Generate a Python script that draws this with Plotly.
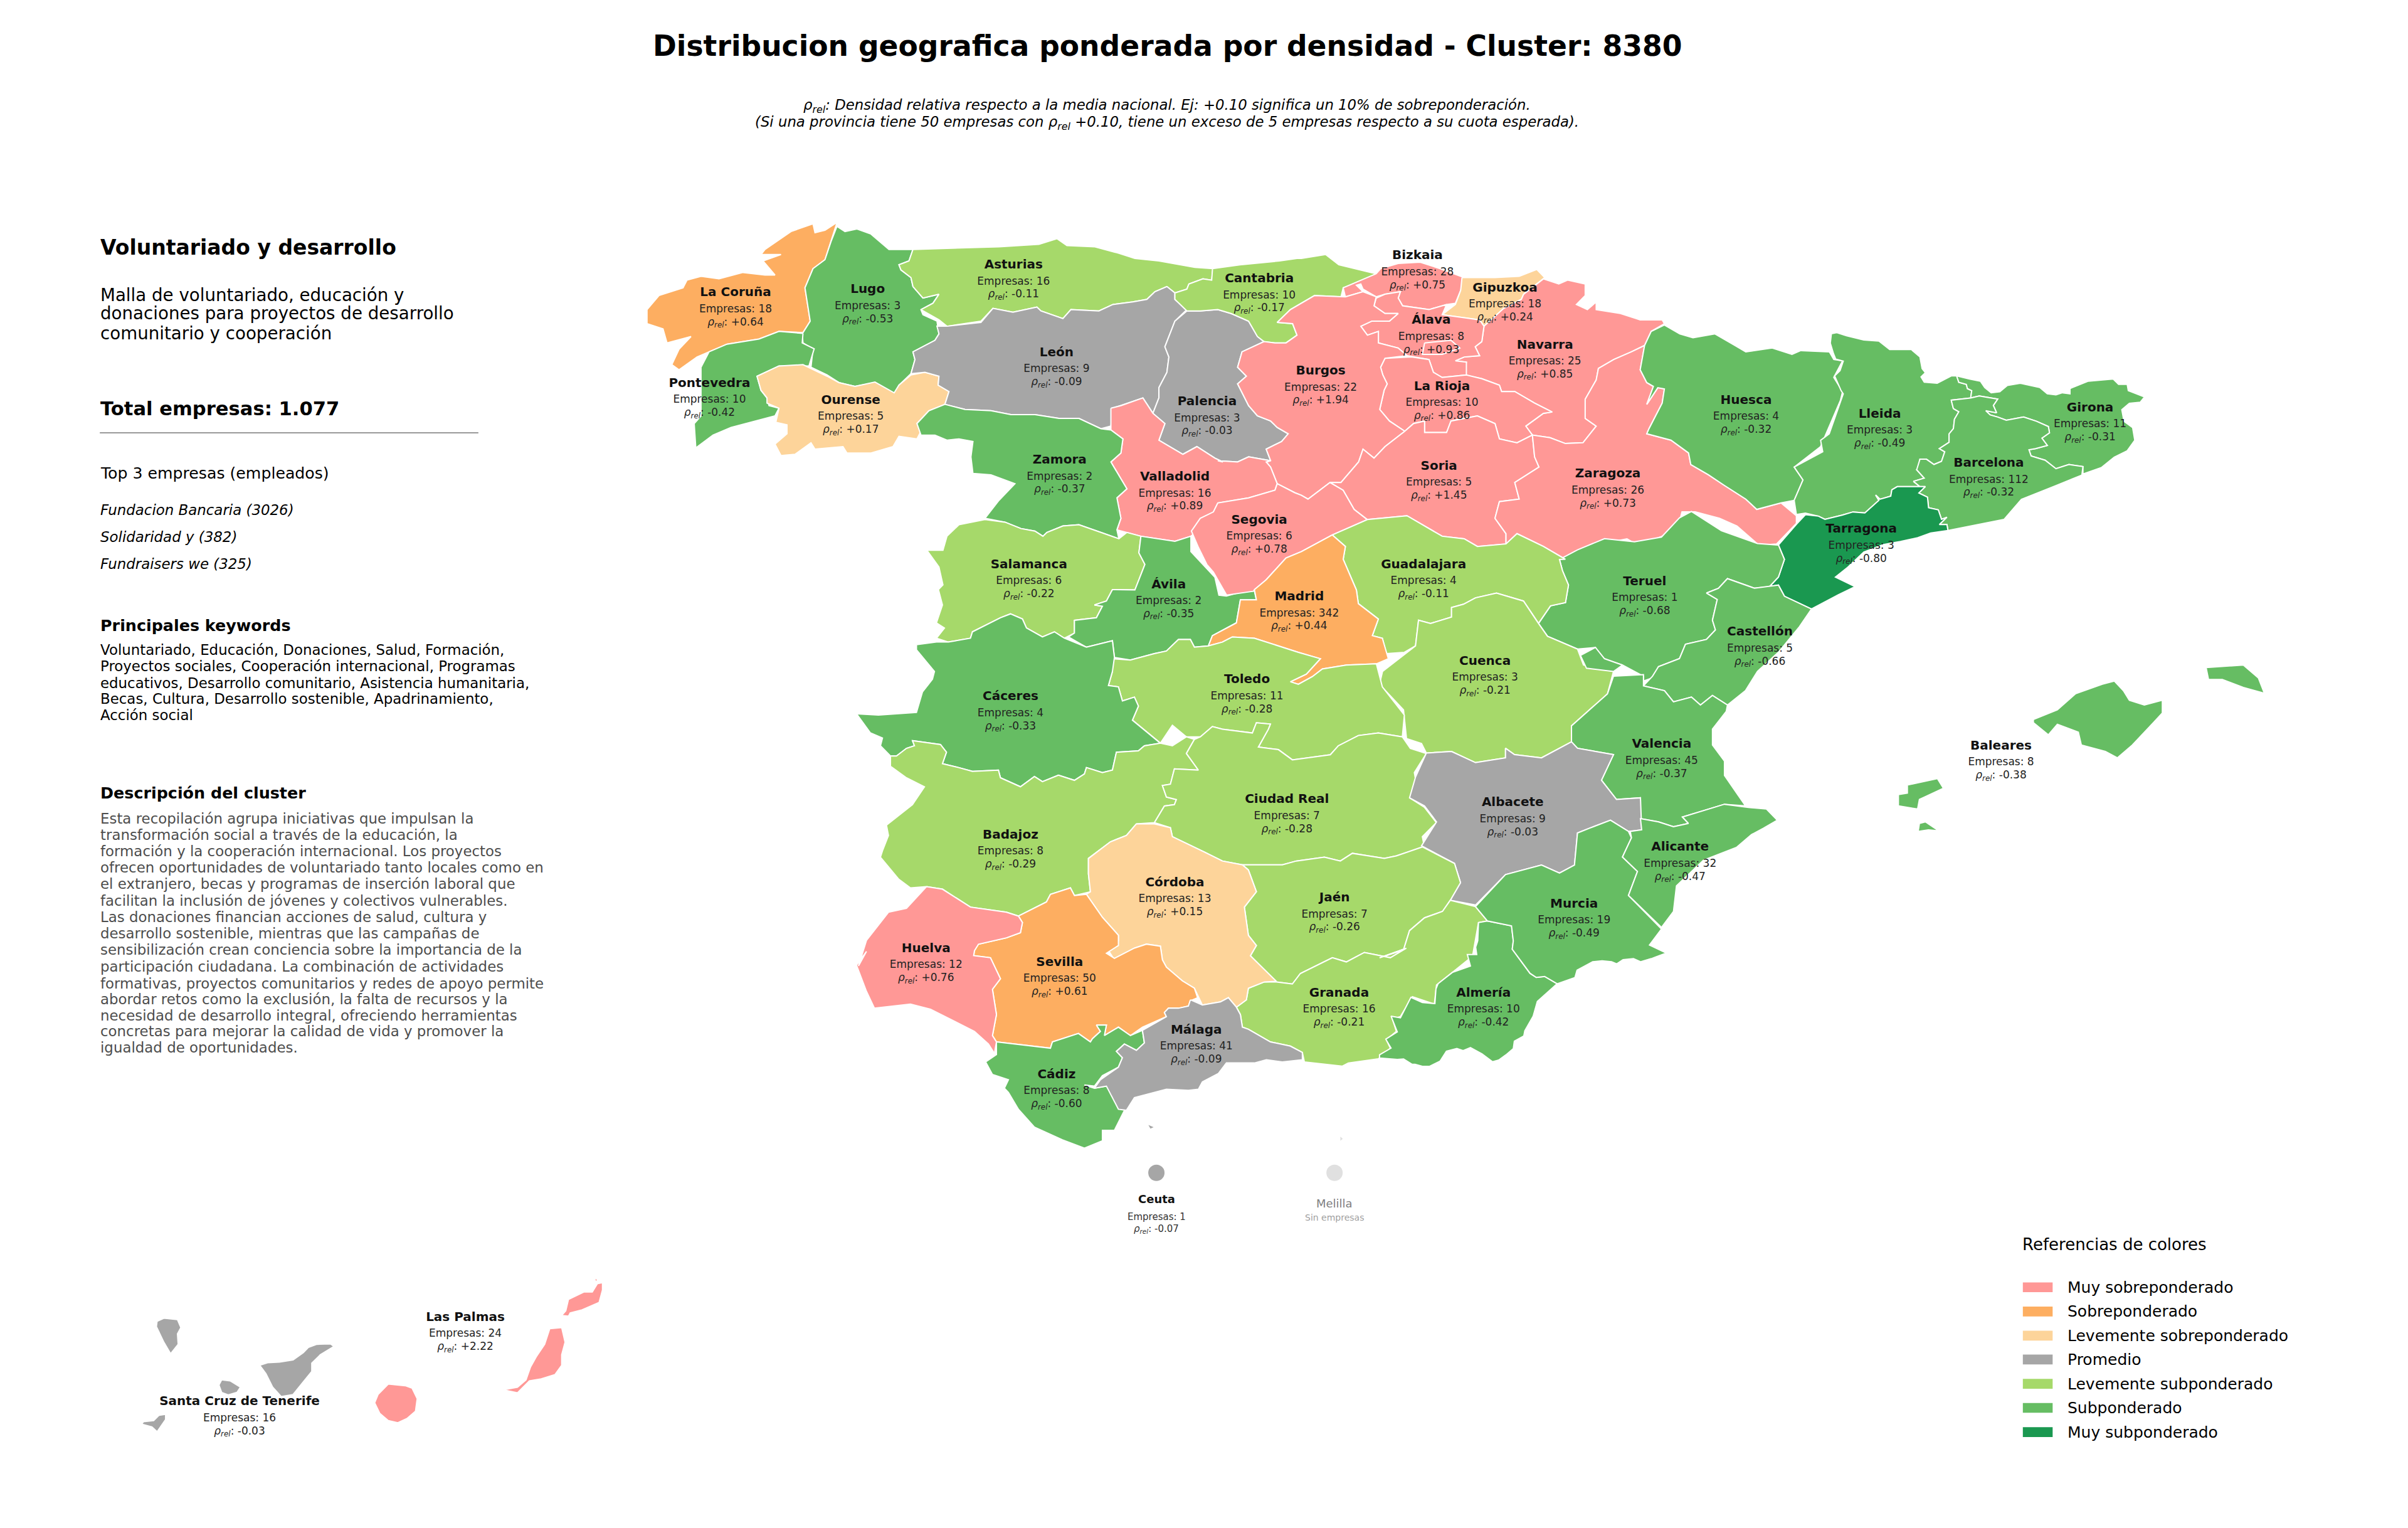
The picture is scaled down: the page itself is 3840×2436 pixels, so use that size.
import plotly.graph_objects as go

names = ["La Coruña", "Lugo", "Pontevedra", "Ourense", "Asturias", "León", "Palencia", "Cantabria",
         "Bizkaia", "Gipuzkoa", "Navarra", "Álava", "La Rioja", "Burgos", "Valladolid", "Zamora",
         "Salamanca", "Ávila", "Segovia", "Soria", "Zaragoza", "Huesca", "Lleida", "Girona",
         "Barcelona", "Tarragona", "Teruel", "Castellón", "Guadalajara", "Madrid", "Cuenca", "Valencia",
         "Toledo", "Cáceres", "Badajoz", "Ciudad Real", "Albacete", "Jaén", "Granada", "Almería",
         "Murcia", "Alicante", "Córdoba", "Sevilla", "Huelva", "Cádiz", "Málaga", "Baleares",
         "Santa Cruz de Tenerife", "Las Palmas"]
empresas = [18, 3, 10, 5, 16, 9, 3, 10,
            28, 18, 25, 8, 10, 22, 16, 2,
            6, 2, 6, 5, 26, 4, 3, 11,
            112, 3, 1, 5, 4, 342, 3, 45,
            11, 4, 8, 7, 9, 7, 16, 10,
            19, 32, 13, 50, 12, 8, 41, 8,
            16, 24]
rho = [0.64, -0.53, -0.42, 0.17, -0.11, -0.09, -0.03, -0.17,
       0.75, 0.24, 0.85, 0.93, 0.86, 1.94, 0.89, -0.37,
       -0.22, -0.35, 0.78, 1.45, 0.73, -0.32, -0.49, -0.31,
       -0.32, -0.80, -0.68, -0.66, -0.11, 0.44, -0.21, -0.37,
       -0.28, -0.33, -0.29, -0.28, -0.03, -0.26, -0.21, -0.42,
       -0.49, -0.47, 0.15, 0.61, 0.76, -0.60, -0.09, -0.38,
       -0.03, 2.22]

# label anchor of each province, map units
label_x = [479, 565, 462, 554, 660, 688, 786, 820,
           923, 980, 1006, 932, 939, 860, 765, 690,
           670, 761, 820, 937, 1047, 1137, 1224, 1361,
           1295, 1212, 1071, 1146, 927, 846, 967, 1082,
           812, 658, 658, 838, 985, 869, 872, 966,
           1025, 1094, 765, 690, 603, 688, 779, 1303,
           156, 303]
label_y = [190, 188, 249, 260, 172, 229, 261, 181,
           166, 187, 224, 208, 251, 241, 310, 299,
           367, 380, 338, 303, 308, 260, 269, 265,
           301, 344, 378, 411, 367, 388, 430, 484,
           442, 453, 543, 520, 522, 584, 646, 646,
           588, 551, 574, 626, 617, 699, 670, 485,
           912, 857]

levels = ["Muy sobreponderado", "Sobreponderado", "Levemente sobreponderado", "Promedio",
          "Levemente subponderado", "Subponderado", "Muy subponderado"]
level_colors = ["#FF9896", "#FDAE61", "#FDD49A", "#A6A6A6", "#A6D96A", "#66BD63", "#1A9850"]

ceuta_empresas = 1
ceuta_rho = -0.07


# outlines were traced on enlarged crops of the map, each crop has its own offset and scale
def crop(x0, kx, y0, ky):
    return lambda pts: [(x0 + kx * x, y0 + ky * y) for x, y in pts]


nw = crop(408.3, 0.2604, 130.7, 0.1667)
ne = crop(775.8, 0.2865, 130.7, 0.1667)
ce = crop(551.2, 0.2604, 383.8, 0.1667)
ea = crop(898.3, 0.3906, 326.7, 0.2083)
so = crop(551.2, 0.2604, 612.5, 0.137)
ca = crop(73.5, 0.2214, 816.6, 0.1361)
cat = crop(1184.1, 0.1406, 204.2, 0.1373)
se = crop(898.3, 0.1361, 612.5, 0.1361)

la_coruna = nw([(525, 85), (510, 160), (495, 230), (465, 265), (445, 340), (458, 470), (440, 515), (380, 510), (330, 540), (250, 560), (205, 590), (175, 610), (130, 660), (112, 640), (130, 580), (160, 530), (100, 555), (90, 500), (50, 480), (50, 425), (80, 370), (140, 340), (150, 310), (185, 295), (230, 305), (290, 280), (345, 290), (370, 290), (340, 235), (385, 210), (335, 210), (345, 190), (410, 120), (465, 90), (470, 125), (495, 115)])
lugo = nw([(525, 100), (545, 120), (575, 110), (610, 130), (655, 190), (715, 190), (705, 235), (680, 250), (685, 270), (710, 300), (715, 335), (740, 380), (780, 365), (765, 400), (735, 425), (740, 445), (775, 470), (780, 520), (770, 545), (715, 590), (720, 620), (710, 675), (680, 720), (668, 755), (655, 740), (620, 710), (570, 725), (530, 710), (500, 680), (460, 650), (465, 580), (440, 555), (438, 520), (458, 470), (445, 340), (465, 265), (495, 230), (510, 160)])
pontevedra = nw([(440, 518), (438, 555), (468, 578), (455, 645), (380, 645), (325, 685), (335, 740), (350, 770), (355, 800), (380, 810), (370, 840), (310, 865), (260, 885), (215, 915), (172, 965), (168, 870), (185, 840), (185, 650), (205, 590), (250, 560), (330, 540), (380, 510)])
ourense = nw([(380, 645), (440, 640), (460, 655), (500, 685), (530, 710), (570, 725), (620, 708), (655, 740), (668, 750), (680, 720), (710, 680), (745, 670), (780, 685), (778, 720), (805, 745), (795, 795), (755, 820), (725, 870), (735, 900), (725, 930), (680, 920), (665, 960), (610, 985), (550, 985), (540, 960), (470, 970), (460, 945), (420, 990), (385, 995), (370, 950), (400, 910), (400, 875), (372, 865), (380, 810), (350, 790), (350, 770), (335, 740), (325, 685)])
asturias = nw([(715, 190), (830, 185), (930, 180), (1030, 170), (1075, 148), (1100, 175), (1170, 180), (1230, 205), (1270, 225), (1330, 235), (1420, 260), (1465, 265), (1462, 310), (1440, 305), (1405, 325), (1400, 345), (1370, 360), (1350, 335), (1320, 355), (1300, 385), (1265, 395), (1215, 405), (1180, 430), (1110, 425), (1090, 460), (1035, 430), (1025, 415), (965, 435), (915, 420), (885, 470), (800, 490), (780, 465), (735, 425), (765, 400), (780, 365), (740, 380), (715, 335), (710, 300), (685, 270), (680, 250), (705, 235)])
leon = nw([(800, 490), (885, 475), (915, 420), (965, 435), (1025, 415), (1035, 430), (1090, 460), (1110, 425), (1180, 430), (1215, 405), (1265, 395), (1300, 385), (1320, 355), (1350, 335), (1370, 360), (1370, 385), (1400, 425), (1370, 470), (1345, 570), (1355, 610), (1350, 670), (1330, 730), (1330, 770), (1315, 830), (1290, 770), (1235, 800), (1215, 810), (1210, 880), (1185, 890), (1150, 865), (1130, 850), (1080, 850), (1020, 835), (960, 835), (910, 820), (845, 815), (795, 795), (805, 745), (778, 720), (780, 685), (745, 670), (710, 675), (720, 620), (715, 590), (770, 545), (780, 520), (775, 490)])
palencia = nw([(1400, 430), (1370, 470), (1345, 570), (1355, 610), (1350, 670), (1330, 730), (1330, 770), (1315, 830), (1345, 870), (1330, 935), (1390, 990), (1425, 960), (1470, 1005), (1490, 1020)]) + ne([(60, 1015), (105, 1020), (130, 1000), (180, 1015), (170, 970), (205, 940), (220, 910), (195, 885), (180, 860), (150, 840), (130, 800), (105, 715), (125, 685), (105, 650), (115, 590), (165, 550), (150, 530), (130, 470), (90, 440), (60, 425), (20, 430)])
cantabria = ne([(48, 265), (110, 250), (200, 235), (240, 225), (250, 225), (305, 210), (335, 250), (420, 285), (415, 300), (345, 340), (340, 375), (280, 370), (225, 425), (195, 475), (230, 480), (240, 525), (215, 555), (190, 555), (165, 550), (150, 530), (130, 470), (90, 440), (60, 425), (20, 430)]) + nw([(1400, 430), (1370, 385), (1370, 360), (1400, 345), (1405, 325), (1440, 305), (1462, 310)])
bizkaia = ne([(420, 285), (430, 265), (470, 245), (520, 240), (565, 265), (620, 300), (612, 350), (600, 400), (580, 405), (540, 425), (480, 410), (470, 380), (475, 355), (440, 365), (420, 375), (390, 345), (385, 325), (375, 330), (390, 355), (350, 375), (345, 340)])
gipuzkoa = ne([(615, 300), (690, 300), (745, 295), (785, 268), (803, 300), (755, 365), (750, 385), (710, 420), (665, 490), (655, 465), (570, 445), (600, 405), (612, 350)])
navarra = ne([(800, 305), (835, 325), (855, 310), (895, 325), (895, 370), (875, 405), (900, 425), (920, 395), (920, 425), (975, 440), (1020, 465), (1070, 465), (1075, 480), (1045, 510), (1030, 565), (1000, 590), (960, 620), (925, 655), (920, 700), (895, 775), (895, 850), (920, 880), (890, 945), (850, 948), (815, 925), (775, 915), (760, 880), (800, 830), (820, 825), (780, 790), (735, 745), (705, 745), (700, 720), (660, 695), (620, 680), (625, 630), (600, 625), (620, 610), (655, 605), (645, 570), (660, 550), (665, 490), (710, 420), (750, 385), (755, 365)])
petilla_a = ne([(950, 718), (965, 708), (962, 725)])
petilla_b = ne([(970, 700), (980, 683), (990, 705)])
alava = ne([(420, 380), (415, 410), (440, 440), (470, 440), (450, 470), (410, 470), (385, 490), (400, 525), (425, 510), (425, 555), (470, 575), (490, 605), (540, 620), (550, 670), (570, 690), (625, 680), (625, 630), (600, 625), (620, 610), (655, 605), (645, 570), (660, 550), (665, 490), (655, 465), (570, 445), (580, 405), (540, 425), (480, 410), (470, 380), (475, 355), (440, 365)])
la_rioja = ne([(440, 615), (500, 610), (540, 620), (550, 670), (570, 690), (625, 680), (660, 695), (700, 720), (705, 745), (735, 745), (780, 790), (820, 825), (800, 830), (760, 880), (775, 915), (740, 945), (700, 930), (690, 870), (650, 840), (590, 860), (580, 905), (530, 905), (530, 860), (505, 870), (485, 900), (450, 860), (428, 815), (438, 740), (445, 715), (435, 680), (430, 650)])
burgos = ne([(280, 370), (340, 375), (350, 375), (390, 355), (420, 375), (415, 410), (440, 440), (470, 440), (450, 470), (410, 470), (385, 490), (400, 525), (425, 510), (425, 555), (470, 575), (490, 605), (440, 615), (430, 650), (435, 680), (445, 715), (438, 740), (428, 815), (450, 860), (485, 900), (440, 960), (415, 1005), (390, 970), (380, 1020), (340, 1100), (315, 1100), (265, 1165), (250, 1150), (235, 1140), (195, 1105), (180, 1040), (170, 1020), (180, 1015), (170, 970), (205, 940), (220, 910), (195, 885), (180, 860), (150, 840), (130, 800), (105, 715), (125, 685), (105, 650), (115, 590), (165, 550), (190, 555), (215, 555), (240, 525), (230, 480), (195, 475), (225, 425)])
trevino = ne([(530, 555), (590, 545), (610, 575), (570, 600), (525, 600)])
valladolid = nw([(1210, 810), (1235, 800), (1290, 770), (1315, 830), (1345, 870), (1330, 935), (1390, 990), (1425, 960), (1470, 1005), (1490, 1020)]) + ne([(60, 1015), (105, 1020), (130, 1000), (180, 1015), (170, 1020), (180, 1040), (195, 1105), (190, 1130), (130, 1160), (60, 1180), (50, 1215)]) + nw([(1470, 1230), (1450, 1260), (1410, 1310), (1370, 1330), (1285, 1310), (1225, 1285), (1235, 1240), (1225, 1160), (1250, 1125), (1210, 1020), (1235, 985), (1240, 930), (1210, 895)])
zamora = nw([(795, 795), (845, 815), (910, 820), (960, 835), (1020, 835), (1080, 850), (1130, 850), (1150, 865), (1185, 890), (1210, 895), (1240, 930), (1235, 985), (1210, 1020), (1250, 1125), (1225, 1160), (1235, 1240), (1225, 1285), (1230, 1320), (1185, 1295), (1130, 1265), (1090, 1270), (1050, 1295), (1040, 1310), (1020, 1290), (985, 1280), (945, 1255), (895, 1240), (930, 1170), (970, 1105), (910, 1070), (865, 1065), (860, 1000), (865, 940), (830, 930), (800, 935), (770, 915), (735, 915), (725, 870), (755, 820)])
salamanca = nw([(895, 1245), (945, 1255), (985, 1280), (1020, 1290), (1040, 1310), (1050, 1295), (1090, 1270), (1130, 1265), (1185, 1295), (1230, 1320), (1250, 1295), (1285, 1310), (1280, 1375), (1295, 1420), (1270, 1520)]) + ce([(665, 0), (650, 45), (620, 60), (640, 65), (625, 110), (570, 120), (570, 170), (545, 190), (520, 165), (490, 185), (450, 150), (440, 115), (410, 95), (385, 110), (315, 165), (310, 190), (255, 205), (225, 190), (245, 150), (225, 130), (240, 60), (230, 0)]) + nw([(790, 1500), (780, 1430), (750, 1365), (790, 1365), (800, 1310), (830, 1265)])
avila = nw([(1285, 1310), (1370, 1330), (1410, 1310), (1410, 1370), (1470, 1470), (1480, 1540)]) + ce([(950, 25), (990, 8), (1020, 5), (1025, 40), (985, 40), (975, 130), (915, 180), (905, 220), (870, 225), (860, 195), (830, 195), (800, 240), (770, 250), (710, 275), (670, 265), (665, 200), (600, 225), (555, 185), (570, 170), (570, 120), (625, 110), (640, 65), (620, 60), (650, 45), (665, 0)]) + nw([(1270, 1520), (1295, 1420), (1280, 1375)])
segovia = ne([(195, 1105), (190, 1130), (130, 1160), (60, 1180), (50, 1215), (20, 1240), (0, 1290), (15, 1350), (35, 1420), (50, 1450), (80, 1540), (140, 1525), (170, 1480), (215, 1395), (250, 1370), (320, 1305), (400, 1245), (370, 1205), (345, 1130), (315, 1100), (265, 1165), (250, 1150), (235, 1140)])
soria = ne([(315, 1100), (340, 1100), (380, 1020), (390, 970), (415, 1005), (440, 960), (485, 900), (505, 870), (530, 860), (530, 905), (580, 905), (590, 860), (650, 840), (690, 870), (700, 930), (740, 945), (775, 915), (780, 1000), (790, 1040), (735, 1100), (745, 1165), (700, 1175), (690, 1240), (715, 1300), (715, 1340), (650, 1350), (620, 1320), (570, 1310), (490, 1230), (400, 1245), (370, 1205), (345, 1130)])
zaragoza = ne([(1030, 565), (1020, 660), (1035, 710), (1050, 725), (1035, 795), (1060, 730), (1075, 735), (1070, 790), (1040, 890), (1035, 910), (1090, 935), (1130, 985), (1135, 1030), (1175, 1070), (1210, 1110), (1260, 1165), (1285, 1205), (1340, 1180), (1375, 1230), (1375, 1260), (1330, 1340), (1290, 1345), (1240, 1270), (1200, 1240), (1145, 1215), (1115, 1215), (1105, 1280), (1070, 1310), (1030, 1335), (1005, 1335), (990, 1320), (930, 1340), (850, 1400), (800, 1350), (740, 1300), (715, 1340), (715, 1300), (690, 1240), (700, 1175), (745, 1165), (735, 1100), (790, 1040), (780, 1000), (775, 915), (815, 925), (850, 948), (890, 945), (920, 880), (895, 850), (895, 775), (920, 700), (925, 655), (960, 620), (1000, 590)])
huesca = ne([(1075, 485), (1110, 520), (1140, 535), (1190, 520), (1235, 565), (1260, 590), (1320, 575), (1365, 600), (1385, 585), (1450, 590), (1460, 620), (1480, 625), (1460, 690), (1480, 745), (1475, 780), (1450, 880), (1430, 960), (1370, 1040), (1390, 1090), (1370, 1170), (1340, 1180), (1285, 1205), (1260, 1165), (1210, 1110), (1175, 1070), (1135, 1030), (1130, 985), (1090, 935), (1035, 910), (1040, 890), (1070, 790), (1075, 735), (1060, 730), (1035, 795), (1050, 725), (1035, 710), (1020, 660), (1030, 565), (1045, 510)])
lleida = cat([(60, 95), (85, 90), (130, 105), (210, 125), (280, 130), (330, 170), (430, 170), (470, 205), (480, 260), (495, 280), (475, 300), (490, 325), (550, 330), (615, 295), (640, 295), (650, 325), (685, 335), (690, 355), (710, 365), (705, 400), (615, 410), (625, 450), (650, 465), (630, 500), (625, 545), (605, 570), (605, 610), (560, 640), (585, 655), (570, 700), (535, 715), (500, 690), (470, 690), (465, 735), (455, 740), (490, 780), (440, 795), (470, 820), (365, 820), (340, 835), (335, 865), (285, 880), (265, 860), (280, 885), (215, 945), (160, 940), (110, 955), (30, 975), (0, 960)]) + ea([(710, 35)]) + ne([(1375, 1225), (1370, 1170), (1390, 1090), (1370, 1040)]) + cat([(20, 655), (10, 600), (50, 570), (80, 480), (115, 380), (105, 365), (75, 295), (100, 270), (115, 225), (80, 215), (70, 190), (55, 140)])
girona = cat([(640, 295), (700, 310), (750, 320), (770, 350), (800, 375), (840, 370), (875, 340), (935, 330), (1025, 350), (1060, 380), (1100, 385), (1130, 375), (1165, 380), (1165, 355), (1250, 320), (1300, 315), (1365, 310), (1390, 335), (1430, 335), (1435, 365), (1470, 380), (1510, 395), (1490, 420), (1440, 425), (1405, 455), (1415, 510), (1455, 540), (1465, 600), (1430, 650), (1370, 680), (1310, 730), (1225, 760), (1225, 725), (1160, 715), (1100, 735), (1050, 695), (985, 675), (975, 645), (1005, 640), (1060, 625), (1035, 590), (1070, 565), (1065, 535), (1010, 510), (950, 490), (870, 505), (830, 490), (795, 480), (775, 460), (825, 470), (810, 435), (830, 405), (745, 390), (705, 400), (710, 365), (690, 355), (685, 335), (650, 325)])
barcelona = cat([(615, 410), (705, 400), (745, 390), (830, 405), (810, 435), (825, 470), (775, 460), (795, 480), (830, 490), (870, 505), (950, 490), (1010, 510), (1065, 535), (1070, 565), (1035, 590), (1060, 625), (1005, 640), (975, 645), (985, 675), (1050, 695), (1100, 735), (1160, 715), (1225, 725), (1220, 765), (1100, 815), (940, 880), (860, 975), (760, 995), (600, 1028), (595, 1000), (560, 1000), (595, 965), (570, 975), (555, 930), (510, 920), (505, 870), (465, 850), (495, 820), (470, 820), (440, 795), (490, 780), (455, 740), (470, 690), (500, 690), (535, 715), (570, 700), (585, 655), (560, 640), (605, 610), (605, 570), (625, 545), (630, 500), (650, 465), (625, 450)])
tarragona = ea([(665, 135), (695, 70), (710, 40)]) + cat([(0, 960), (30, 975), (110, 955), (160, 940), (215, 945), (280, 885), (265, 860), (285, 880), (335, 865), (340, 835), (365, 820), (470, 820), (495, 820), (465, 850), (505, 870), (510, 920), (555, 930), (570, 975), (595, 965), (560, 1000), (595, 1000), (600, 1028), (520, 1040), (460, 1062), (380, 1080), (300, 1095), (210, 1130), (140, 1198)]) + ea([(780, 205), (760, 235), (793, 265), (765, 290), (720, 335), (675, 295), (665, 260), (650, 265), (665, 235), (675, 180)])
teruel = ea([(300, 180), (330, 150), (375, 115), (425, 125), (470, 110), (490, 70), (500, 50), (520, 30), (570, 90), (630, 130), (665, 135), (675, 180), (665, 235), (650, 265), (625, 270), (580, 240), (565, 270), (545, 285), (563, 305), (555, 370), (560, 400), (545, 430), (510, 445), (500, 490), (465, 515), (455, 550), (440, 560), (440, 545), (405, 510), (370, 490), (360, 455), (330, 460), (280, 420), (265, 380), (285, 325), (310, 315), (315, 260), (305, 215)])
castellon = ea([(545, 285), (565, 270), (580, 240), (625, 270), (665, 260), (675, 295), (720, 335), (700, 390), (665, 470), (630, 530), (610, 590), (580, 635), (555, 605), (535, 635), (520, 610), (490, 625), (475, 590), (440, 575), (455, 545), (465, 515), (500, 490), (510, 445), (545, 430), (560, 400), (555, 370), (563, 305)])
guadalajara = ne([(320, 1305), (400, 1245), (490, 1230), (570, 1310), (620, 1320), (650, 1350), (715, 1340), (740, 1300), (800, 1350), (850, 1400)]) + ea([(300, 180), (305, 215), (315, 260), (310, 315), (285, 325), (265, 380), (240, 310), (195, 285), (160, 300), (140, 320), (120, 330), (120, 360), (85, 380), (65, 370), (60, 450)]) + ce([(1395, 245), (1350, 250), (1340, 190), (1315, 180), (1330, 115), (1280, 55)]) + ne([(375, 1520), (345, 1400), (350, 1350)])
madrid = ne([(320, 1305), (350, 1350), (345, 1400), (375, 1520)]) + ce([(1280, 55), (1330, 115), (1315, 180), (1340, 190), (1355, 270), (1325, 290), (1250, 295), (1190, 310), (1165, 340), (1130, 370), (1110, 360), (1150, 330), (1185, 270), (1130, 245), (1070, 215), (1020, 190), (965, 185), (940, 205), (905, 220), (915, 180), (975, 130), (985, 40), (1025, 40), (1020, 0)]) + ne([(170, 1480), (215, 1395), (250, 1370)])
cuenca = ea([(265, 380), (280, 420), (330, 460), (340, 510), (390, 530), (380, 600), (350, 650), (320, 700), (320, 750), (270, 800), (225, 790), (210, 770), (210, 800), (160, 815), (120, 780), (78, 785), (70, 755), (45, 740), (40, 650), (0, 570), (5, 530), (60, 450), (65, 370), (85, 380), (120, 360), (120, 330), (140, 320), (160, 300), (195, 285), (240, 310)])
valencia = ea([(390, 545), (440, 540), (440, 575), (475, 590), (490, 625), (520, 610), (535, 635), (555, 605), (580, 635), (578, 655), (555, 710), (555, 760), (575, 810), (575, 855), (610, 950), (575, 945), (540, 965), (505, 985), (515, 1005), (490, 1015), (465, 1000), (435, 990), (435, 925), (395, 930), (370, 870), (390, 790), (330, 770), (320, 750), (320, 700), (350, 650), (380, 600)])
ademuz = ea([(335, 480), (360, 455), (375, 490), (405, 510), (390, 530), (345, 520)])
toledo = ce([(665, 270), (710, 275), (770, 250), (800, 240), (830, 195), (860, 195), (870, 225), (905, 220), (940, 205), (965, 185), (1020, 190), (1070, 215), (1130, 245), (1185, 270), (1150, 330), (1110, 360), (1130, 370), (1165, 340), (1190, 310), (1250, 295), (1325, 290), (1340, 380), (1395, 490), (1390, 575), (1330, 560), (1280, 570), (1230, 610), (1210, 645), (1160, 655), (1115, 665), (1080, 625), (1030, 615), (1055, 545), (1060, 525), (1025, 520), (1015, 560), (940, 545), (915, 535), (885, 575), (850, 575), (815, 530), (785, 600), (715, 510), (730, 455), (720, 420), (690, 435), (680, 380), (655, 375), (665, 320)])
caceres = ce([(175, 215), (225, 205), (255, 205), (310, 190), (315, 165), (385, 110), (410, 95), (440, 115), (450, 150), (490, 185), (520, 165), (545, 190), (600, 225), (665, 200), (670, 265), (665, 320), (655, 375), (680, 380), (690, 435), (720, 420), (730, 455), (715, 510), (785, 600), (745, 610), (730, 630), (675, 635), (665, 705), (640, 715), (600, 695), (595, 720), (570, 745), (530, 725), (490, 750), (470, 730), (435, 770), (385, 735), (380, 705), (315, 710), (280, 695), (240, 680), (250, 635), (235, 605), (165, 590), (170, 610), (150, 620), (125, 650), (110, 650), (85, 610), (90, 580), (60, 560), (25, 485), (80, 490), (175, 480), (190, 400), (215, 350), (220, 320), (175, 235)])
badajoz = ce([(165, 590), (235, 605), (250, 635), (240, 680), (280, 695), (315, 710), (380, 705), (385, 735), (435, 770), (470, 730), (490, 750), (530, 725), (570, 745), (595, 720), (600, 695), (640, 715), (665, 705), (675, 635), (730, 630), (745, 610), (785, 600), (815, 610), (850, 575), (870, 585), (850, 640), (880, 705), (820, 700), (810, 760), (790, 765), (800, 810), (825, 820), (820, 840), (795, 845), (770, 910), (725, 915), (700, 960), (660, 985), (605, 1050), (605, 1110), (610, 1180), (570, 1195), (560, 1165), (510, 1190), (500, 1220), (430, 1275), (400, 1260), (310, 1240), (240, 1170), (200, 1160), (160, 1165), (130, 1130), (85, 1045), (90, 1020), (105, 960), (100, 920), (165, 840), (195, 770), (150, 735), (110, 690), (110, 650), (125, 650), (150, 620), (170, 610)])
ciudad_real = ce([(870, 585), (885, 575), (915, 535), (940, 545), (1015, 560), (1025, 520), (1060, 525), (1055, 545), (1030, 615), (1080, 625), (1115, 665), (1160, 655), (1210, 645), (1230, 610), (1280, 570), (1330, 560), (1390, 575), (1410, 620), (1450, 640), (1420, 715), (1425, 760), (1410, 815), (1445, 850), (1475, 910), (1440, 965), (1445, 1005), (1375, 1040), (1345, 1050), (1265, 1030), (1235, 1060), (1195, 1045), (1125, 1060), (1090, 1075), (990, 1075), (940, 1060), (895, 1025), (815, 965), (810, 930), (770, 910), (795, 845), (820, 840), (825, 820), (800, 810), (790, 765), (810, 760), (820, 700), (880, 705), (850, 640)])
albacete = ea([(78, 785), (120, 780), (160, 815), (210, 800), (210, 770), (225, 790), (270, 800), (320, 750), (330, 770), (390, 790), (370, 870), (395, 930), (435, 925), (437, 1025), (415, 1030), (385, 995), (350, 1020), (330, 1035), (325, 1135), (300, 1160), (270, 1135), (210, 1165), (160, 1260), (118, 1245), (135, 1190), (125, 1130), (70, 1075), (95, 1000), (75, 950), (50, 925), (60, 860)])
jaen = ce([(990, 1075), (1090, 1075), (1125, 1060), (1195, 1045), (1235, 1060), (1265, 1030), (1345, 1050), (1375, 1040), (1440, 1005)]) + ea([(125, 1130), (135, 1190), (118, 1245), (105, 1280), (75, 1300), (50, 1340), (40, 1400), (0, 1425)]) + so([(1400, 35), (1360, 80), (1295, 55), (1250, 100), (1215, 80), (1135, 155), (1115, 205), (1075, 195)]) + ce([(1010, 1430), (1025, 1390), (1005, 1350), (995, 1240), (1025, 1180), (1005, 1095)])
granada = so([(1075, 195), (1115, 205), (1135, 155), (1215, 80), (1250, 100), (1295, 55), (1360, 80), (1400, 35)]) + ea([(0, 1425), (40, 1400), (50, 1340), (75, 1300), (105, 1280), (118, 1245), (160, 1265), (180, 1310), (165, 1315), (155, 1420), (125, 1465), (95, 1510)]) + so([(1470, 300), (1415, 265), (1385, 360), (1365, 370), (1375, 430), (1350, 470), (1360, 510), (1330, 560), (1255, 580), (1240, 595), (1145, 575), (1140, 530), (1110, 500), (1060, 480), (1005, 420), (990, 410), (985, 350), (975, 315), (1000, 280), (1005, 225), (1045, 195)])
almeria = se([(470, 0), (460, 30), (465, 65), (420, 65), (435, 120), (350, 150), (280, 205), (270, 230), (265, 300), (205, 295), (150, 270), (100, 368), (55, 360), (85, 435), (30, 470), (55, 513), (0, 545), (0, 560), (85, 567), (115, 565), (155, 590), (170, 590), (205, 600), (240, 600), (290, 575), (320, 528), (370, 515), (400, 525), (435, 510), (490, 540), (540, 578), (570, 570), (605, 545), (640, 515), (645, 480), (690, 455), (695, 430), (735, 360), (755, 290), (815, 235), (850, 205), (790, 170), (750, 175), (720, 155), (635, 40), (640, 0)]) + ea([(220, 1325), (180, 1310), (165, 1315)])
murcia = ea([(160, 1265), (210, 1165), (270, 1135), (300, 1160), (325, 1135), (330, 1035), (350, 1020), (385, 995), (415, 1030), (420, 1050), (405, 1110), (430, 1155), (415, 1230), (470, 1335), (450, 1385), (478, 1410)]) + se([(1300, 85), (1250, 100), (1215, 85), (1165, 90), (1135, 110), (1110, 100), (1065, 95), (1020, 100), (945, 140), (935, 175), (850, 205), (790, 170), (750, 175), (720, 155), (635, 40), (640, 0)]) + ea([(220, 1325), (180, 1310)])
alicante = ea([(418, 1030), (437, 1025), (435, 990), (465, 1000), (490, 1015), (515, 1005), (505, 985), (540, 965), (575, 945), (615, 955), (645, 960), (663, 995), (640, 1020), (620, 1040), (595, 1080), (540, 1120), (495, 1200), (490, 1280), (470, 1330), (415, 1230), (430, 1155), (405, 1110), (420, 1050)])
cordoba = ce([(725, 915), (770, 915), (810, 930), (815, 965), (895, 1025), (940, 1060), (990, 1075), (1005, 1095), (1025, 1180), (995, 1240), (1005, 1350), (1025, 1390), (1010, 1430), (1075, 1530)]) + so([(1045, 195), (1005, 225), (1000, 280), (975, 315), (955, 270), (935, 290), (890, 305), (870, 225), (840, 190), (800, 125), (790, 90), (785, 25), (750, 15), (720, 35), (670, 90), (650, 30), (680, 0)]) + ce([(680, 1350), (640, 1280), (600, 1190), (610, 1180), (605, 1110), (605, 1050), (660, 985), (700, 960)])
sevilla = ce([(430, 1275), (500, 1220), (510, 1190), (560, 1165), (570, 1195), (600, 1190), (640, 1280), (680, 1350), (680, 1390), (650, 1420), (670, 1440), (720, 1400), (750, 1385)]) + so([(785, 25), (790, 90), (800, 125), (840, 190), (870, 225), (878, 270), (860, 285), (855, 310), (830, 320), (805, 320), (795, 340), (800, 360), (740, 410), (710, 450), (680, 410), (645, 450), (650, 400), (625, 400), (635, 430), (615, 465), (610, 480), (580, 440), (515, 480), (510, 510), (440, 495), (375, 480), (365, 450), (375, 350), (365, 230), (385, 180), (360, 80), (318, 70)]) + ce([(320, 1410), (330, 1385), (400, 1360), (435, 1340), (440, 1300)])
huelva = ce([(200, 1160), (240, 1170), (310, 1240), (400, 1260), (430, 1275), (440, 1300), (435, 1340), (400, 1360), (330, 1385), (320, 1410)]) + so([(318, 70), (360, 80), (385, 180), (365, 230), (375, 350), (365, 450), (375, 480), (370, 535), (355, 490), (320, 430), (210, 325), (160, 300), (70, 320), (50, 240), (25, 115), (50, 50)]) + ce([(30, 1470), (50, 1370), (105, 1260), (150, 1245)])
cadiz = so([(375, 480), (440, 495), (510, 510), (515, 480), (580, 440), (610, 480), (615, 465), (635, 430), (625, 400), (650, 400), (645, 450), (680, 410), (710, 450), (740, 425), (745, 485), (725, 520), (695, 490), (675, 525), (690, 555), (680, 600), (640, 640), (620, 690), (595, 685), (620, 700), (650, 690), (680, 750), (695, 805), (670, 900), (640, 900), (640, 950), (595, 985), (540, 945), (470, 885), (430, 800), (405, 720), (395, 700), (405, 660), (365, 635), (348, 575), (375, 540)])
malaga = so([(860, 280), (890, 305), (935, 290), (955, 270), (975, 315), (985, 350), (990, 410), (1005, 420), (1060, 480), (1110, 500), (1140, 530), (1140, 565), (1090, 575), (1050, 565), (1020, 580), (950, 580), (930, 630), (890, 670), (880, 705), (855, 710), (800, 705), (720, 745), (700, 805), (680, 800), (650, 690), (620, 700), (635, 660), (680, 600), (690, 555), (675, 525), (695, 490), (725, 520), (745, 485), (740, 425), (800, 360), (795, 340), (805, 320), (830, 320), (855, 310)])
mallorca = ea([(1090, 680), (1130, 650), (1160, 600), (1205, 570), (1225, 560), (1240, 590), (1250, 620), (1275, 635), (1305, 620), (1305, 660), (1290, 690), (1255, 760), (1230, 800), (1210, 780), (1170, 760), (1165, 720), (1130, 695), (1115, 728), (1090, 690)])
menorca = ea([(1378, 518), (1440, 510), (1465, 550), (1475, 598), (1440, 580), (1405, 555), (1382, 555)])
ibiza = ea([(880, 885), (930, 865), (940, 895), (900, 930), (897, 960), (865, 950), (865, 915), (880, 910)])
formentera = ea([(900, 1005), (910, 1000), (932, 1028), (915, 1025), (898, 1030)])
la_palma = ca([(150, 305), (190, 312), (200, 350), (190, 380), (192, 430), (170, 475), (150, 420), (128, 345), (130, 320)])
tenerife = ca([(432, 530), (455, 518), (490, 515), (530, 505), (560, 470), (575, 445), (600, 430), (640, 428), (650, 440), (630, 460), (610, 480), (585, 520), (585, 560), (555, 620), (530, 670), (495, 680), (470, 635), (450, 570)])
gomera = ca([(320, 600), (345, 605), (375, 635), (365, 660), (340, 672), (320, 660), (312, 625)])
hierro = ca([(135, 770), (155, 765), (155, 790), (130, 848), (115, 825), (85, 812), (90, 800), (120, 795)])
gran_canaria = ca([(810, 620), (860, 628), (880, 640), (895, 690), (890, 750), (865, 785), (838, 805), (810, 795), (785, 760), (770, 710), (780, 670)])
fuerteventura = ca([(1285, 355), (1320, 350), (1330, 420), (1320, 480), (1320, 530), (1300, 575), (1260, 595), (1225, 605), (1190, 662), (1148, 648), (1190, 635), (1215, 600), (1228, 540), (1245, 490), (1270, 430)])
lanzarote = ca([(1440, 135), (1440, 170), (1430, 230), (1380, 265), (1345, 280), (1340, 295), (1320, 292), (1332, 270), (1340, 215), (1385, 180), (1410, 180), (1425, 140)])
graciosa = ca([(1418, 108), (1427, 125), (1418, 130)])
ceuta_shape = so([(755, 875), (768, 885), (760, 892)])
melilla_shape = so([(1235, 930), (1241, 940), (1235, 950)])

outlines = {
    "La Coruña": [la_coruna], "Lugo": [lugo], "Pontevedra": [pontevedra], "Ourense": [ourense],
    "Asturias": [asturias], "León": [leon], "Palencia": [palencia], "Cantabria": [cantabria],
    "Bizkaia": [bizkaia], "Gipuzkoa": [gipuzkoa], "Navarra": [navarra, petilla_a, petilla_b], "Álava": [alava],
    "La Rioja": [la_rioja], "Burgos": [burgos, trevino], "Valladolid": [valladolid], "Zamora": [zamora],
    "Salamanca": [salamanca], "Ávila": [avila], "Segovia": [segovia], "Soria": [soria],
    "Zaragoza": [zaragoza], "Huesca": [huesca], "Lleida": [lleida], "Girona": [girona],
    "Barcelona": [barcelona], "Tarragona": [tarragona], "Teruel": [teruel], "Castellón": [castellon],
    "Guadalajara": [guadalajara], "Madrid": [madrid], "Cuenca": [cuenca], "Valencia": [valencia, ademuz],
    "Toledo": [toledo], "Cáceres": [caceres], "Badajoz": [badajoz], "Ciudad Real": [ciudad_real],
    "Albacete": [albacete], "Jaén": [jaen], "Granada": [granada], "Almería": [almeria],
    "Murcia": [murcia], "Alicante": [alicante], "Córdoba": [cordoba], "Sevilla": [sevilla],
    "Huelva": [huelva], "Cádiz": [cadiz], "Málaga": [malaga],
    "Baleares": [mallorca, menorca, ibiza, formentera],
    "Santa Cruz de Tenerife": [la_palma, tenerife, gomera, hierro],
    "Las Palmas": [gran_canaria, fuerteventura, lanzarote, graciosa],
}

FONT = "DejaVu Sans"


def level_color(r):
    # class limits deduced from the colours on the map
    if r >= 0.7:
        return level_colors[0]
    if r >= 0.3:
        return level_colors[1]
    if r >= 0.1:
        return level_colors[2]
    if r > -0.1:
        return level_colors[3]
    if r > -0.3:
        return level_colors[4]
    if r > -0.7:
        return level_colors[5]
    return level_colors[6]


def rho_text(r):
    return f"<i>ρ<sub>rel</sub></i>: {r:+.2f}"


fig = go.Figure()

for name, r in zip(names, rho):
    xs, ys = [], []
    for part in outlines[name]:
        xs += [p[0] for p in part] + [part[0][0], None]
        ys += [p[1] for p in part] + [part[0][1], None]
    fig.add_trace(go.Scatter(x=xs, y=ys, mode="lines", fill="toself", fillcolor=level_color(r),
                             line=dict(color="white", width=2), hoverinfo="skip", showlegend=False))

# small Ceuta / Melilla shapes and their enlarged circles
for part, color in [(ceuta_shape, "#A6A6A6"), (melilla_shape, "#E0E0E0")]:
    fig.add_trace(go.Scatter(x=[p[0] for p in part], y=[p[1] for p in part], mode="lines", fill="toself",
                             fillcolor=color, line=dict(color=color, width=0), hoverinfo="skip", showlegend=False))
fig.add_trace(go.Scatter(x=[753, 869], y=[763.5, 763.5], mode="markers",
                         marker=dict(size=26, color=["#A6A6A6", "#E0E0E0"]), hoverinfo="skip", showlegend=False))

# province labels
fig.add_trace(go.Scatter(x=label_x, y=[y + 0.8 for y in label_y], mode="text", text=names,
                         textfont=dict(family=FONT, size=20, color="#111111", weight="bold"),
                         textposition="middle center", hoverinfo="skip", showlegend=False))
fig.add_trace(go.Scatter(x=label_x, y=[y + 11.5 for y in label_y],
                         mode="text", text=[f"Empresas: {e}" for e in empresas],
                         textfont=dict(family=FONT, size=17, color="#222222"),
                         textposition="middle center", hoverinfo="skip", showlegend=False))
fig.add_trace(go.Scatter(x=label_x, y=[y + 20 for y in label_y],
                         mode="text", text=[rho_text(r) for r in rho],
                         textfont=dict(family=FONT, size=17, color="#222222"),
                         textposition="middle center", hoverinfo="skip", showlegend=False))
# Ceuta and Melilla labels are set smaller than the rest
fig.add_annotation(x=753, y=780.5, text="<b>Ceuta</b>", showarrow=False, font=dict(family=FONT, size=18, color="#111111"))
fig.add_annotation(x=753, y=792, text=f"Empresas: {ceuta_empresas}", showarrow=False, font=dict(family=FONT, size=15, color="#333333"))
fig.add_annotation(x=753, y=800, text=rho_text(ceuta_rho), showarrow=False, font=dict(family=FONT, size=15, color="#333333"))
fig.add_annotation(x=869, y=783.5, text="Melilla", showarrow=False, font=dict(family=FONT, size=18, color="#808080"))
fig.add_annotation(x=869, y=792.5, text="Sin empresas", showarrow=False, font=dict(family=FONT, size=14, color="#A0A0A0"))

# header
fig.add_annotation(x=760, y=30, text="<b>Distribucion geografica ponderada por densidad - Cluster: 8380</b>",
                   showarrow=False, font=dict(family=FONT, size=45.6, color="black"))
fig.add_annotation(x=760, y=69, text="<i>ρ<sub>rel</sub>: Densidad relativa respecto a la media nacional. Ej: +0.10 significa un 10% de sobreponderación.</i>",
                   showarrow=False, font=dict(family=FONT, size=22.8, color="black"))
fig.add_annotation(x=760, y=80, text="<i>(Si una provincia tiene 50 empresas con ρ<sub>rel</sub> +0.10, tiene un exceso de 5 empresas respecto a su cuota esperada).</i>",
                   showarrow=False, font=dict(family=FONT, size=22.8, color="black"))

# left panel
side_lines = [
    (161, "<b>Voluntariado y desarrollo</b>", 33, "black"),
    (192, "Malla de voluntariado, educación y", 27.7, "black"),
    (204, "donaciones para proyectos de desarrollo", 27.7, "black"),
    (217, "comunitario y cooperación", 27.7, "black"),
    (266, "<b>Total empresas: 1.077</b>", 30.6, "black"),
    (308, "Top 3 empresas (empleados)", 25.2, "black"),
    (332, "<i>Fundacion Bancaria (3026)</i>", 22.9, "black"),
    (349.5, "<i>Solidaridad y (382)</i>", 22.9, "black"),
    (367, "<i>Fundraisers we (325)</i>", 22.9, "black"),
    (407, "<b>Principales keywords</b>", 25.4, "black"),
    (516, "<b>Descripción del cluster</b>", 25.4, "black"),
]
keyword_lines = ["Voluntariado, Educación, Donaciones, Salud, Formación,",
                 "Proyectos sociales, Cooperación internacional, Programas",
                 "educativos, Desarrollo comunitario, Asistencia humanitaria,",
                 "Becas, Cultura, Desarrollo sostenible, Apadrinamiento,",
                 "Acción social"]
keyword_y = [423, 433.5, 444.5, 455, 465.5]
desc_lines = ["Esta recopilación agrupa iniciativas que impulsan la",
              "transformación social a través de la educación, la",
              "formación y la cooperación internacional. Los proyectos",
              "ofrecen oportunidades de voluntariado tanto locales como en",
              "el extranjero, becas y programas de inserción laboral que",
              "facilitan la inclusión de jóvenes y colectivos vulnerables.",
              "Las donaciones financian acciones de salud, cultura y",
              "desarrollo sostenible, mientras que las campañas de",
              "sensibilización crean conciencia sobre la importancia de la",
              "participación ciudadana. La combinación de actividades",
              "formativas, proyectos comunitarios y redes de apoyo permite",
              "abordar retos como la exclusión, la falta de recursos y la",
              "necesidad de desarrollo integral, ofreciendo herramientas",
              "concretas para mejorar la calidad de vida y promover la",
              "igualdad de oportunidades."]
desc_y = [533, 543.3, 554.2, 564.9, 575.5, 586.4, 596.9, 607.5, 618.3, 629.2, 640.1, 650.6, 660.9, 671.4, 681.9]

for y, txt, size, color in side_lines:
    fig.add_annotation(x=64.6, y=y, text=txt, xanchor="left", showarrow=False, font=dict(family=FONT, size=size, color=color))
for y, txt in zip(keyword_y, keyword_lines):
    fig.add_annotation(x=64.6, y=y, text=txt, xanchor="left", showarrow=False, font=dict(family=FONT, size=22.9, color="black"))
for y, txt in zip(desc_y, desc_lines):
    fig.add_annotation(x=64.6, y=y, text=txt, xanchor="left", showarrow=False, font=dict(family=FONT, size=22.9, color="#4D4D4D"))
fig.add_shape(type="line", x0=65, x1=311.5, y0=281.7, y1=281.7, line=dict(color="#999999", width=2))

# colour legend
legend_y = [838, 853.8, 869.5, 885, 900.8, 916.5, 932.3]
fig.add_annotation(x=1316, y=810, text="Referencias de colores", xanchor="left", showarrow=False,
                   font=dict(family=FONT, size=26, color="black"))
for y, label, color in zip(legend_y, levels, level_colors):
    fig.add_shape(type="rect", x0=1317.2, x1=1336.6, y0=y - 3.2, y1=y + 3.2, fillcolor=color, line_width=0)
    fig.add_annotation(x=1345.4, y=y, text=label, xanchor="left", showarrow=False,
                       font=dict(family=FONT, size=25, color="black"))

fig.update_xaxes(range=[0, 1568], visible=False, fixedrange=True)
fig.update_yaxes(range=[994.7, 0], visible=False, fixedrange=True)
fig.update_layout(width=3840, height=2436, margin=dict(l=0, r=0, t=0, b=0), showlegend=False,
                  paper_bgcolor="white", plot_bgcolor="white", font=dict(family=FONT))

fig.write_html("out.html", config={"displayModeBar": False}, post_script="document.body.style.margin='0';")
